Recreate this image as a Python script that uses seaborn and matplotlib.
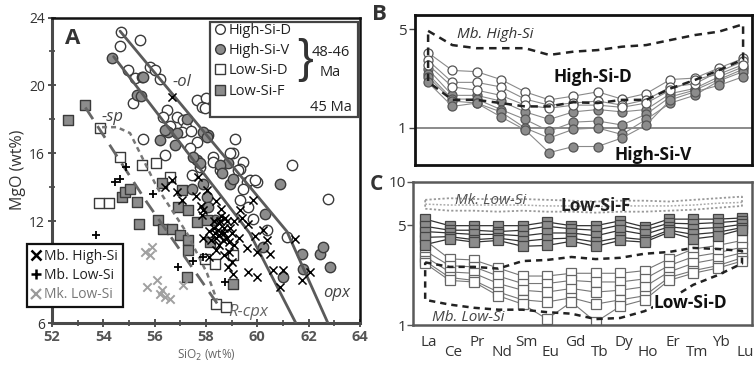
import numpy as np
import pandas as pd
import matplotlib
matplotlib.use("Agg")
import matplotlib.pyplot as plt
import matplotlib.transforms as mtrans
from matplotlib.lines import Line2D
from matplotlib.patches import Rectangle
from matplotlib.ticker import NullLocator, FixedLocator
import seaborn as sns

sns.set_theme(style="white")
plt.rcParams['font.family'] = ['Open Sans', 'DejaVu Sans']

# ---------------- Panel A data (SiO2, MgO) ----------------
hsd_x = [54.70,54.65,55.42,54.97,55.23,55.49,55.82,56.01,56.21,55.17,57.66,57.99,57.86,56.47,56.34,56.86,57.11,57.24,57.05,57.96,
         55.56,56.40,59.13,59.06,59.45,58.28,57.44,57.77,58.28,58.93,59.32,59.58,59.97,59.45,59.32,58.54,59.84,59.65,60.36,61.14,
         61.34,62.77,57.64,59.71,59.91,59.26,57.37,56.60,57.40]
hsd_y = [23.15,22.35,22.65,20.92,20.41,20.51,21.06,20.90,20.35,18.94,19.13,19.23,18.74,18.54,18.15,18.15,17.95,17.56,17.26,18.64,
         16.87,15.89,16.87,15.99,15.49,15.79,14.71,15.20,15.50,15.99,15.10,14.31,14.31,13.92,13.23,15.00,12.15,12.84,11.50,11.07,
         15.30,13.33,16.67,14.41,14.41,15.00,16.30,17.60,17.30]
hsv_x = [54.33,55.56,55.32,55.45,56.21,56.53,56.79,58.09,57.64,57.77,58.87,56.40,56.86,57.90,58.03,57.25,57.51,58.54,58.61,57.44,
         58.03,58.09,58.35,58.93,60.30,60.23,60.88,61.73,61.79,62.44,62.57,62.83,61.01,59.06,57.90]
hsv_y = [21.60,20.51,19.45,19.35,16.77,17.26,16.48,17.07,15.59,15.40,15.40,17.36,17.17,17.26,16.97,18.05,15.79,15.30,14.81,13.92,
         13.43,12.84,12.05,14.21,12.45,10.48,14.22,10.09,9.20,10.09,10.48,9.30,8.71,14.51,14.22]
lsd_x = [53.87,54.65,55.50,56.05,56.60,53.82,54.22,57.96,58.35,59.06,58.38,58.78]
lsd_y = [17.49,15.77,15.30,15.40,14.60,13.05,13.05,9.79,9.50,10.00,7.14,6.94]
lsf_x = [52.63,53.29,54.71,54.86,55.04,55.30,55.40,56.27,57.05,56.92,56.14,56.34,56.66,56.99,57.31,57.31,57.31,57.64,58.03,58.15,57.25,59.06]
lsf_y = [17.95,18.84,13.43,13.72,13.92,13.13,11.86,14.25,13.82,12.84,12.05,11.56,11.56,11.17,10.87,10.28,12.64,11.95,12.05,10.77,8.71,8.32]
mbh_x = [56.66,56.66,56.40,57.05,57.90,56.86,58.03,57.70,57.83,59.32,59.84,59.65,60.23,60.36,60.49,59.65,59.97,58.87,59.06,60.62,
         61.01,60.88,61.47,61.73,62.05,58.30,58.50,58.60,58.40,58.70,58.80,58.50,58.90,58.20,58.60,58.80,59.00,58.30,58.10,58.40,
         58.90,59.10,58.60,59.10,57.90,58.70,59.30,57.80,58.40,59.40,59.60,59.00,58.10,57.60,59.90,60.00,
         58.50,58.70,58.45,58.65,58.55,58.35,58.75,58.95]
mbh_y = [19.33,14.41,14.00,13.23,12.64,13.72,13.82,14.61,12.35,12.64,13.23,11.86,11.46,10.87,10.09,9.00,8.71,9.30,8.90,9.10,
         9.10,8.12,10.97,8.51,9.00,11.60,11.90,11.30,11.00,11.60,11.00,10.60,10.80,10.90,12.30,12.00,11.30,12.00,11.40,10.30,
         10.20,10.60,12.70,12.00,11.00,10.00,11.00,12.90,13.20,12.20,10.40,9.60,9.90,13.50,11.10,10.20,
         11.20,11.30,11.50,10.90,12.00,11.30,12.20,11.60]
mbl_x = [54.45,54.65,54.88,55.95,53.72,56.90,57.50,57.90,58.74]
mbl_y = [14.31,14.51,15.20,13.60,11.17,9.30,9.65,9.89,8.41]
mkl_x = [55.62,55.88,55.82,55.69,56.08,56.27,56.40,56.60,56.21,57.12]
mkl_y = [10.18,10.48,10.00,8.12,8.51,7.92,7.53,7.43,7.73,8.22]

ol1_x = [54.65, 61.15, 62.75]
ol1_y = [23.2, 11.4, 6.0]
ol2_x = [54.40, 59.70, 61.50]
ol2_y = [21.7, 11.3, 6.0]
sp_x = [53.95, 54.53, 55.04, 56.09, 57.26, 58.04, 58.43]
sp_y = [17.54, 17.54, 17.19, 14.00, 11.29, 8.93, 7.33]
cpx_x = [53.30, 55.70, 58.54]
cpx_y = [18.70, 13.10, 6.92]

y_ticks = [6, 12, 16, 20, 24]
y_ticklabels = ["6", "12", "16", "20", "24"]
x_ticks = [52, 54, 56, 58, 60, 62, 64]

# ---------------- REE data ----------------
ree = ['La', 'Ce', 'Pr', 'Nd', 'Sm', 'Eu', 'Gd', 'Tb', 'Dy', 'Ho', 'Er', 'Tm', 'Yb', 'Lu']

hsd_b = [
    [3.40, 2.55, 2.50, 2.20, 1.80, 1.58, 1.68, 1.80, 1.60, 1.75, 2.20, 2.25, 2.65, 3.10],
    [3.00, 2.10, 2.10, 1.95, 1.60, 1.45, 1.50, 1.55, 1.45, 1.58, 1.95, 2.05, 2.50, 2.95],
    [2.80, 1.95, 1.85, 1.70, 1.45, 1.38, 1.45, 1.45, 1.40, 1.50, 1.85, 2.20, 2.40, 2.80]]
hsv_b = [
    [2.60, 1.70, 1.70, 1.55, 1.30, 1.15, 1.30, 1.35, 1.30, 1.35, 1.75, 1.90, 2.30, 2.70],
    [2.40, 1.60, 1.60, 1.35, 1.15, 0.95, 1.10, 1.12, 1.05, 1.25, 1.66, 1.85, 2.20, 2.60],
    [2.30, 1.55, 1.50, 1.30, 1.00, 0.85, 0.98, 1.00, 0.90, 1.15, 1.50, 1.70, 2.15, 2.50],
    [2.10, 1.42, 1.50, 1.20, 0.97, 0.67, 0.74, 0.74, 0.85, 1.05, 1.58, 1.80, 2.00, 2.30]]
mbh_upper = [4.85, 3.85, 3.66, 3.66, 3.66, 3.28, 3.46, 3.55, 3.75, 3.85, 4.18, 4.53, 4.79, 5.40]
mbh_lower = [2.12, 1.58, 1.58, 1.50, 1.42, 1.42, 1.52, 1.50, 1.58, 1.58, 1.90, 2.18, 2.56, 3.05]

lsf_c = [
    [5.50, 4.95, 4.95, 4.95, 4.95, 5.25, 4.95, 4.95, 5.35, 4.85, 5.50, 5.50, 5.50, 5.60],
    [4.90, 4.60, 4.60, 4.50, 4.60, 4.90, 4.70, 4.60, 5.00, 4.60, 5.15, 5.10, 5.20, 5.35],
    [4.50, 4.40, 4.30, 4.30, 4.20, 4.40, 4.40, 4.20, 4.60, 4.30, 4.85, 4.70, 4.80, 5.05],
    [4.10, 4.15, 3.95, 4.05, 3.85, 4.00, 4.05, 3.80, 4.10, 3.95, 4.60, 4.30, 4.45, 4.80],
    [3.65, 4.00, 3.80, 3.90, 3.55, 3.60, 3.85, 3.55, 3.90, 3.80, 4.45, 4.00, 4.20, 4.65]]
lsd_c = [
    [3.90, 2.90, 2.85, 2.50, 2.20, 2.20, 2.30, 2.30, 2.30, 2.40, 2.90, 3.40, 3.60, 3.90],
    [3.30, 2.60, 2.55, 2.20, 1.95, 1.95, 2.05, 2.00, 2.00, 2.10, 2.60, 3.00, 3.20, 3.50],
    [3.00, 2.35, 2.30, 1.95, 1.75, 1.70, 1.80, 1.70, 1.75, 1.85, 2.35, 2.70, 2.90, 3.20],
    [2.80, 2.15, 2.05, 1.70, 1.50, 1.45, 1.55, 1.40, 1.50, 1.60, 2.15, 2.40, 2.60, 2.95],
    [2.70, 2.05, 2.00, 1.60, 1.40, 1.10, 1.45, 1.05, 1.35, 1.50, 2.05, 2.30, 2.50, 2.80]]
mbl_upper = [2.74, 2.55, 2.55, 2.48, 2.80, 2.85, 2.99, 2.89, 2.95, 3.15, 3.24, 3.46, 3.40, 3.30]
mbl_lower = [1.50, 1.39, 1.32, 1.28, 1.28, 1.23, 1.20, 1.10, 1.12, 1.25, 1.50, 1.91, 2.23, 2.69]
mkl_upper = [7.5, 7.7, 7.6, 7.6, 7.6, 7.5, 7.4, 7.3, 7.4, 7.4, 7.3, 7.5, 7.7, 7.9]
mkl_mid = [7.0, 6.9, 6.9, 6.9, 6.9, 6.8, 6.8, 6.7, 6.8, 6.8, 6.8, 6.9, 7.1, 7.2]
mkl_lower = [6.5, 6.3, 6.3, 6.2, 6.3, 6.2, 6.2, 6.1, 6.2, 6.2, 6.3, 6.4, 6.6, 6.8]


def long_df(series_list, name):
    rows = []
    for k, s in enumerate(series_list):
        for i, v in enumerate(s):
            rows.append((f"{name}{k}", i, v))
    return pd.DataFrame(rows, columns=["sample", "el", "val"])


def envelope(upper, lower):
    n = len(upper)
    xs = list(range(n)) + list(range(n - 1, -1, -1)) + [0]
    ys = list(upper) + list(lower[::-1]) + [upper[0]]
    return xs, ys


fig = plt.figure(figsize=(7.55, 3.72), dpi=100)
axA = fig.add_axes([0.0689, 0.1317, 0.4079, 0.8212])
axB = fig.add_axes([0.5497, 0.5565, 0.4464, 0.4032])
axC = fig.add_axes([0.547, 0.1263, 0.449, 0.3845])

# ---------------- Panel A ----------------
DK = '#3a3a3a'
GRAYF = '#8c8c8c'
sns.scatterplot(x=hsd_x, y=hsd_y, ax=axA, marker='o', s=56, facecolor='white', edgecolor=DK, linewidth=1.0, zorder=2)
sns.scatterplot(x=hsv_x, y=hsv_y, ax=axA, marker='o', s=56, facecolor=GRAYF, edgecolor=DK, linewidth=1.0, zorder=2)
sns.scatterplot(x=lsd_x, y=lsd_y, ax=axA, marker='s', s=52, facecolor='white', edgecolor=DK, linewidth=1.0, zorder=2)
sns.scatterplot(x=lsf_x, y=lsf_y, ax=axA, marker='s', s=52, facecolor=GRAYF, edgecolor=DK, linewidth=1.0, zorder=2)

for lx, ly in [(ol1_x, ol1_y), (ol2_x, ol2_y)]:
    sns.lineplot(x=lx, y=ly, ax=axA, sort=False, estimator=None, color='#5a5a5a', lw=2.0, zorder=3)
sns.lineplot(x=sp_x, y=sp_y, ax=axA, sort=False, estimator=None, color='#777777', lw=1.8,
             linestyle=(0, (2.0, 1.6)), zorder=3)
sns.lineplot(x=cpx_x, y=cpx_y, ax=axA, sort=False, estimator=None, color='#666666', lw=2.0,
             linestyle=(0, (5, 3)), zorder=3)

sns.scatterplot(x=mkl_x, y=mkl_y, ax=axA, marker='x', s=36, color='#a0a0a0', linewidth=1.4, zorder=4)
sns.scatterplot(x=mbl_x, y=mbl_y, ax=axA, marker='+', s=40, color='black', linewidth=1.3, zorder=4)
sns.scatterplot(x=mbh_x, y=mbh_y, ax=axA, marker='x', s=34, color='black', linewidth=1.1, zorder=4)

axA.set_xlim(52, 64)
axA.set_ylim(6, 24)
axA.set_xticks(x_ticks)
axA.set_xticklabels([str(t) for t in x_ticks])
axA.set_yticks(y_ticks)
axA.set_yticklabels(y_ticklabels)
axA.yaxis.set_minor_locator(FixedLocator([8, 10, 14, 18, 22]))
axA.xaxis.set_minor_locator(FixedLocator([53, 55, 57, 59, 61, 63]))
axA.tick_params(axis='both', which='major', direction='inout', length=6, width=1.3, colors='#444444',
                bottom=True, left=True, pad=2)
axA.tick_params(axis='both', which='minor', direction='inout', length=4, width=1.2, color='#444444',
                bottom=True, left=True)
axA.tick_params(axis='x', labelsize=10.5, labelcolor='#555555')
axA.tick_params(axis='y', labelsize=10, labelcolor='#333333')
for lab in axA.get_xticklabels():
    lab.set_fontweight('bold')
axA.grid(False)
for side in ['left', 'bottom']:
    axA.spines[side].set_color('#4a4a4a')
    axA.spines[side].set_linewidth(2.2)
for side in ['top', 'right']:
    axA.spines[side].set_color('#111111')
    axA.spines[side].set_linewidth(1.8)
axA.set_xlabel('SiO$_2$ (wt%)', fontsize=8.5, color='#666666', labelpad=3)
axA.set_ylabel('MgO (wt%)', fontsize=11.5, color='#333333', labelpad=2)

axA.text(52.5, 22.75, 'A', fontsize=16, fontweight='bold', color='#333333', ha='left', va='center')
axA.text(57.06, 20.2, '-ol', fontsize=12, fontstyle='italic', color='#444444', ha='center', va='center')
axA.text(54.35, 18.13, '-sp', fontsize=12, fontstyle='italic', color='#444444', ha='center', va='center')
axA.text(63.1, 7.75, 'opx', fontsize=12, fontstyle='italic', color='#444444', ha='center', va='center')
axA.text(59.65, 6.65, 'R-cpx', fontsize=12, fontstyle='italic', color='#666666', ha='center', va='center')

# legend 1 (upper right)
axA.add_patch(Rectangle((0.513, 0.674), 0.4805, 0.311, transform=axA.transAxes, facecolor='white',
                        edgecolor='#444444', lw=1.6, zorder=5, clip_on=False))
h1 = [Line2D([], [], marker='o', ls='', mfc='white', mec=DK, ms=7, mew=1),
      Line2D([], [], marker='o', ls='', mfc=GRAYF, mec=DK, ms=7, mew=1),
      Line2D([], [], marker='s', ls='', mfc='white', mec=DK, ms=7, mew=1),
      Line2D([], [], marker='s', ls='', mfc=GRAYF, mec=DK, ms=7, mew=1)]
leg1 = axA.legend(h1, ['High-Si-D', 'High-Si-V', 'Low-Si-D', 'Low-Si-F'], loc='upper left',
                  bbox_to_anchor=(0.518, 0.992), frameon=False, fontsize=10.5, handlelength=0.7,
                  handletextpad=0.3, labelspacing=0.36, borderpad=0.2, borderaxespad=0)
leg1.set_zorder(6)
for t in leg1.get_texts():
    t.set_color('#222222')
axA.add_artist(leg1)
axA.text(0.822, 0.862, '}', transform=axA.transAxes, fontsize=34, family='Liberation Sans',
         color='#333333', ha='center', va='center', zorder=7)
axA.text(0.905, 0.886, '48-46', transform=axA.transAxes, fontsize=10.5, color='#222222', ha='center', va='center', zorder=7)
axA.text(0.905, 0.820, 'Ma', transform=axA.transAxes, fontsize=10.5, color='#222222', ha='center', va='center', zorder=7)
axA.text(0.905, 0.707, '45 Ma', transform=axA.transAxes, fontsize=10.5, color='#222222', ha='center', va='center', zorder=7)

# legend 2 (lower left)
h2 = [Line2D([], [], marker='x', ls='', color='black', ms=7, mew=1.8),
      Line2D([], [], marker='+', ls='', color='black', ms=7, mew=1.8),
      Line2D([], [], marker='x', ls='', color='#9a9a9a', ms=7, mew=1.6)]
leg2 = axA.legend(h2, ['Mb. High-Si', 'Mb. Low-Si', 'Mk. Low-Si'], loc='upper left',
                  bbox_to_anchor=(-0.081, 0.258), frameon=True, fancybox=False, fontsize=10,
                  handlelength=0.6, handletextpad=0.3, labelspacing=0.3, borderpad=0.35,
                  borderaxespad=0, framealpha=1)
leg2.get_frame().set_edgecolor('#111111')
leg2.get_frame().set_linewidth(1.6)
leg2.set_zorder(8)
for t, c in zip(leg2.get_texts(), ['#222222', '#222222', '#777777']):
    t.set_color(c)

# ---------------- Panel B ----------------
dfB_d = long_df(hsd_b, 'd')
dfB_v = long_df(hsv_b, 'v')
sns.lineplot(data=dfB_v, x='el', y='val', units='sample', estimator=None, ax=axB, color='#8a8a8a', lw=0.8,
             marker='o', markersize=6.5, markerfacecolor=GRAYF, markeredgecolor='#555555', markeredgewidth=0.9)
sns.lineplot(data=dfB_d, x='el', y='val', units='sample', estimator=None, ax=axB, color='#8a8a8a', lw=0.8,
             marker='o', markersize=6.5, markerfacecolor='white', markeredgecolor='#555555', markeredgewidth=0.9)
ex, ey = envelope(mbh_upper, mbh_lower)
sns.lineplot(x=ex, y=ey, ax=axB, sort=False, estimator=None, color='#222222', lw=1.8,
             linestyle=(0, (3, 2.2)))
axB.axhline(1.0, color='#777777', lw=1.2, zorder=1)
axB.set_yscale('log')
axB.set_ylim(0.548, 6.28)
axB.set_xlim(-0.54, 13.37)
axB.set_yticks([1, 5])
axB.set_yticklabels(['1', '5'])
axB.yaxis.set_minor_locator(NullLocator())
axB.set_xticks([])
axB.tick_params(axis='y', left=True, length=4, width=1, color='#444444', labelsize=11, labelcolor='#333333', pad=2)
axB.set_xlabel('')
axB.set_ylabel('')
axB.grid(False)
for s in axB.spines.values():
    s.set_color('#111111')
    s.set_linewidth(2.0)
axB.text(2.77, 4.54, 'Mb. High-Si', fontsize=11, fontstyle='italic', color='#333333', ha='center', va='center')
axB.text(6.81, 2.29, 'High-Si-D', fontsize=12.5, fontweight='bold', color='#111111', ha='center', va='center')
axB.text(9.29, 0.645, 'High-Si-V', fontsize=12.5, fontweight='bold', color='#111111', ha='center', va='center')

# ---------------- Panel C ----------------
ex, ey = envelope(mkl_upper, mkl_lower)
sns.lineplot(x=ex, y=ey, ax=axC, sort=False, estimator=None, color='#999999', lw=1.3, linestyle=(0, (1.2, 1.2)))
sns.lineplot(x=list(range(14)), y=mkl_mid, ax=axC, sort=False, estimator=None, color='#aaaaaa', lw=1.1,
             linestyle=(0, (1.2, 1.2)))
dfC_d = long_df(lsd_c, 'd')
dfC_f = long_df(lsf_c, 'f')
sns.lineplot(data=dfC_d, x='el', y='val', units='sample', estimator=None, ax=axC, color='#777777', lw=0.8,
             marker='s', markersize=7, markerfacecolor='white', markeredgecolor='#666666', markeredgewidth=0.9)
sns.lineplot(data=dfC_f, x='el', y='val', units='sample', estimator=None, ax=axC, color='#333333', lw=0.9,
             marker='s', markersize=7, markerfacecolor=GRAYF, markeredgecolor='#444444', markeredgewidth=0.9)
ex, ey = envelope(mbl_upper, mbl_lower)
sns.lineplot(x=ex, y=ey, ax=axC, sort=False, estimator=None, color='#222222', lw=1.8,
             linestyle=(0, (2.5, 2.0)))
axC.set_yscale('log')
axC.set_ylim(1.0, 10.0)
axC.set_xlim(-0.5, 13.41)
axC.set_yticks([1, 5, 10])
axC.set_yticklabels(['1', '5', '10'])
axC.yaxis.set_minor_locator(NullLocator())
axC.set_xticks(range(14))
axC.set_xticklabels([''] * 14)
axC.tick_params(axis='y', left=True, length=4, width=1, color='#555555', labelsize=11, labelcolor='#333333', pad=1)
axC.tick_params(axis='x', bottom=False, length=0)
axC.set_xlabel('')
axC.set_ylabel('')
axC.grid(False)
for s in axC.spines.values():
    s.set_color('#5a5a5a')
    s.set_linewidth(1.8)
trC = mtrans.blended_transform_factory(axC.transData, axC.transAxes)
for i, name in enumerate(ree):
    yy = -0.12 if i % 2 == 0 else -0.19
    axC.text(i + 0.15, yy, name, transform=trC, fontsize=11, color='#333333', ha='center', va='center')
axC.text(2.67, 7.4, 'Mk. Low-Si', fontsize=11, fontstyle='italic', color='#555555', ha='center', va='center')
axC.text(6.98, 6.84, 'Low-Si-F', fontsize=12.5, fontweight='bold', color='#222222', ha='center', va='center')
axC.text(10.9, 1.42, 'Low-Si-D', fontsize=12.5, fontweight='bold', color='#111111', ha='center', va='center',
         bbox=dict(facecolor='white', edgecolor='none', pad=0.5), zorder=6)
axC.text(1.77, 1.12, 'Mb. Low-Si', fontsize=11, fontstyle='italic', color='#444444', ha='center', va='center')

fig.text(0.503, 0.96, 'B', fontsize=16, fontweight='bold', color='#333333', ha='center', va='center')
fig.text(0.499, 0.505, 'C', fontsize=15, fontweight='bold', color='#333333', ha='center', va='center')

fig.savefig('out.png', dpi=100)
